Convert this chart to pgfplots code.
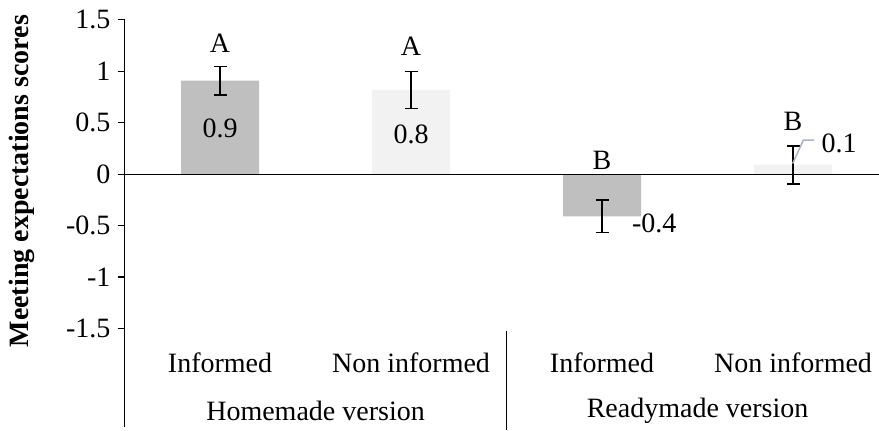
\documentclass[border=0pt]{standalone}
\usepackage{fontspec}
\setmainfont{Liberation Serif}
\usepackage{pgfplots}
\pgfplotsset{compat=1.18}
\definecolor{bardark}{HTML}{BFBFBF}
\definecolor{barlight}{HTML}{F2F2F2}
\definecolor{leader}{HTML}{A7B5C9}
\newcommand{\lbl}{\fontsize{14}{16}\selectfont}
\begin{document}
\begin{tikzpicture}
\begin{axis}[
  scale only axis,
  width=377.25pt, height=154.35pt,
  xmin=-0.5, xmax=3.45, ymin=-1.5, ymax=1.5,
  axis x line=none,
  axis y line=left,
  y axis line style={-, line width=0.6pt},
  ytick={-1.5,-1,-0.5,0,0.5,1,1.5},
  yticklabels={-1.5,-1,-0.5,0,0.5,1,1.5},
  yticklabel style={font=\lbl},
  tick align=outside, major tick length=3.5pt,
  tick style={line width=0.6pt, black},
  clip=false,
]
  % homemade/readymade informed
  \addplot[ybar, bar width=39pt, bar shift=0pt, fill=bardark, draw=none,
    error bars/.cd, y dir=both, y explicit,
    error bar style={line width=0.6pt, black},
    error mark options={rotate=90, line width=0.6pt, black, mark size=3.25pt}]
    coordinates {(0,0.91) +- (0,0.14) (2,-0.41) +- (0,0.16)};
  % non informed
  \addplot[ybar, bar width=39pt, bar shift=0pt, fill=barlight, draw=none,
    error bars/.cd, y dir=both, y explicit,
    error bar style={line width=0.6pt, black},
    error mark options={rotate=90, line width=0.6pt, black, mark size=3.25pt}]
    coordinates {(1,0.82) +- (0,0.18) (3,0.09) +- (0,0.185)};

  \draw[line width=0.6pt] (axis cs:-0.5,0) -- (axis cs:3.45,0);
  \draw[line width=0.6pt] (axis cs:-0.5,-1.5) -- (axis cs:-0.5,-2.46);
  \draw[line width=0.6pt] (axis cs:1.5,-1.52) -- (axis cs:1.5,-2.49);

  % value labels
  \node[font=\lbl] at (axis cs:0,0.445) {0.9};
  \node[font=\lbl] at (axis cs:1,0.39) {0.8};
  \node[font=\lbl, anchor=west, inner sep=0pt] at (axis cs:2.155,-0.48) {-0.4};
  \node[font=\lbl, anchor=west, inner sep=0pt] at (axis cs:3.148,0.30) {0.1};
  \draw[leader, line width=0.75pt] (axis cs:2.998,0.104) -- (axis cs:3.054,0.331) -- (axis cs:3.11,0.331);

  % significance letters
  \node[font=\lbl] at (axis cs:0,1.27) {A};
  \node[font=\lbl] at (axis cs:1,1.24) {A};
  \node[font=\lbl] at (axis cs:2,0.136) {B};
  \node[font=\lbl] at (axis cs:3,0.51) {B};

  % category labels
  \node[font=\lbl] at (axis cs:0,-1.83) {Informed};
  \node[font=\lbl] at (axis cs:1,-1.83) {Non informed};
  \node[font=\lbl] at (axis cs:2,-1.83) {Informed};
  \node[font=\lbl] at (axis cs:3,-1.83) {Non informed};
  \node[font=\lbl] at (axis cs:0.5,-2.296) {Homemade version};
  \node[font=\lbl] at (axis cs:2.5,-2.296) {Readymade version};

  \node[font=\lbl\bfseries, rotate=90] at (axis cs:-1.037,-0.068) {Meeting expectations scores};

  \coordinate (bl) at (axis cs:-1.152,-2.49);
  \coordinate (tr) at (axis cs:3.45,1.693);
\end{axis}
\pgfresetboundingbox
\useasboundingbox (bl) rectangle (tr);
\end{tikzpicture}
\end{document}
